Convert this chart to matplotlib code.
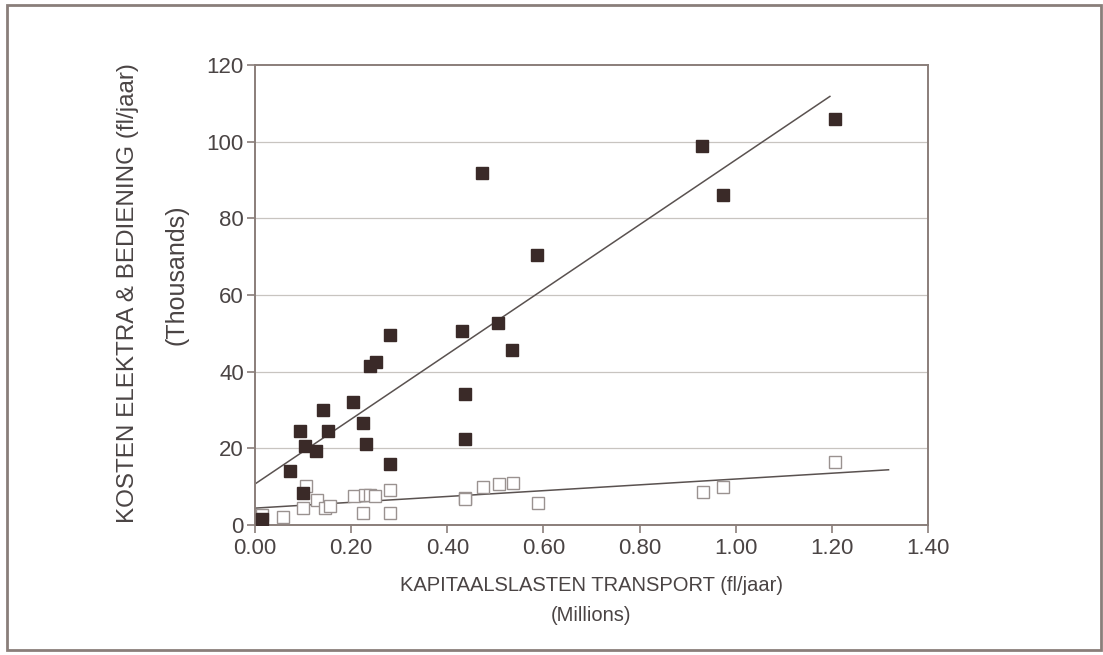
import numpy as np
import matplotlib.pyplot as plt
from matplotlib.patches import Rectangle

plt.rcParams['font.family'] = ['Liberation Sans', 'DejaVu Sans']

# kapitaalslasten (millions) vs kosten elektra & bediening (thousands)
x_filled = [0.015, 0.073, 0.093, 0.104, 0.100, 0.127, 0.141, 0.151, 0.203,
            0.224, 0.230, 0.239, 0.251, 0.280, 0.280, 0.431, 0.436, 0.436,
            0.473, 0.506, 0.535, 0.587, 0.929, 0.973, 1.207]
y_filled = [1.6, 14.2, 24.4, 20.7, 8.4, 19.4, 29.9, 24.4, 32.0,
            26.5, 21.2, 41.4, 42.4, 49.5, 16.0, 50.6, 34.1, 22.3,
            91.7, 52.7, 45.6, 70.5, 98.8, 86.2, 105.8]

x_open = [0.015, 0.059, 0.100, 0.106, 0.128, 0.145, 0.156, 0.206, 0.225,
          0.228, 0.239, 0.249, 0.281, 0.281, 0.436, 0.436, 0.474, 0.507,
          0.536, 0.588, 0.931, 0.973, 1.207]
y_open = [2.5, 2.2, 4.4, 10.2, 6.4, 4.4, 5.0, 7.6, 3.1,
          7.9, 7.9, 7.6, 9.2, 3.2, 7.0, 6.7, 9.9, 10.7,
          10.9, 5.7, 8.6, 9.9, 16.3]

# trend lines as drawn (start / end)
trend_filled_x = [0.0, 1.196]
trend_filled_y = [10.7, 111.8]
trend_open_x = [0.0, 1.318]
trend_open_y = [4.4, 14.4]

xticks = [0.0, 0.2, 0.4, 0.6, 0.8, 1.0, 1.2, 1.4]
yticks = [0, 20, 40, 60, 80, 100, 120]

text_col = '#4a4444'
spine_col = '#8a7e7a'

fig = plt.figure(figsize=(11.03, 6.55), dpi=100)
ax = fig.add_axes([0.2312, 0.1985, 0.6101, 0.7023])

for v in yticks[1:-1]:
    ax.axhline(v, color='#c8c4c0', lw=0.9, zorder=0)

ax.plot(trend_filled_x, trend_filled_y, color='#5a5250', lw=1.1, zorder=2)
ax.plot(trend_open_x, trend_open_y, color='#5a5250', lw=1.1, zorder=2)

ax.plot(x_open, y_open, 's', ms=9, mfc='white', mec='#9a9290', mew=1.0,
        ls='none', zorder=3)
ax.plot(x_filled, y_filled, 's', ms=9, mfc='#3a2a28', mec='#3a2a28',
        ls='none', zorder=4)

ax.set_xlim(0, 1.4)
ax.set_ylim(0, 120)
ax.set_xticks(xticks)
ax.set_xticklabels(['%.2f' % v for v in xticks])
ax.set_yticks(yticks)
for s in ax.spines.values():
    s.set_color(spine_col)
    s.set_linewidth(1.4)
ax.tick_params(colors=spine_col, labelcolor=text_col, labelsize=16,
               length=6, width=1.2, direction='out')
ax.tick_params(axis='y', pad=2)

ax.set_xlabel('KAPITAALSLASTEN TRANSPORT (fl/jaar)\n(Millions)', fontsize=14.5,
              color=text_col, linespacing=1.75, labelpad=12)
fig.text(0.116, 0.553, 'KOSTEN ELEKTRA & BEDIENING (fl/jaar)', rotation=90,
         ha='center', va='center', fontsize=17.5, color=text_col)
fig.text(0.160, 0.58, '(Thousands)', rotation=90,
         ha='center', va='center', fontsize=18, color=text_col)

fig.patches.append(Rectangle((0.006, 0.008), 0.992, 0.984, transform=fig.transFigure,
                             fill=False, ec=spine_col, lw=2.0))

fig.savefig('out.png', dpi=100)
